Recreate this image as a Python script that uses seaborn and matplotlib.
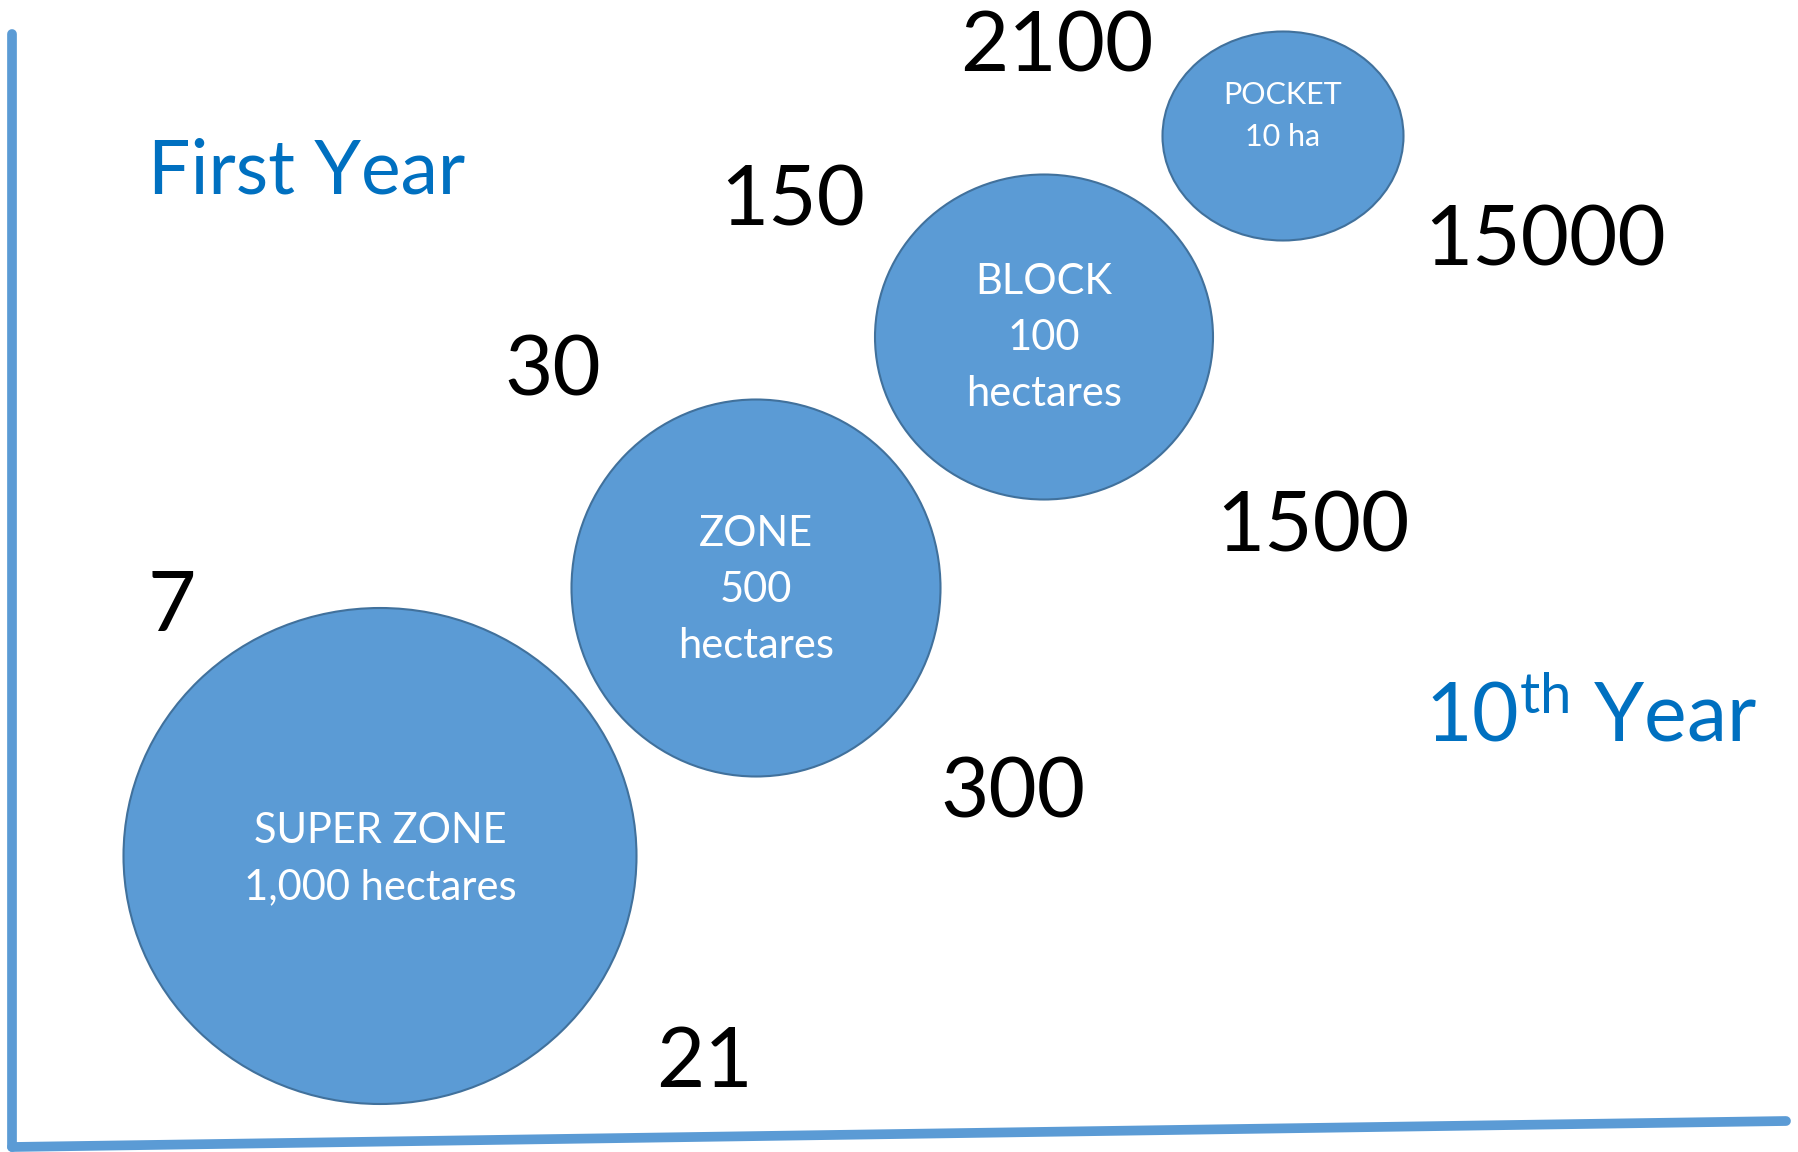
import matplotlib
matplotlib.use("Agg")
import matplotlib.pyplot as plt
from matplotlib.patches import Ellipse
import seaborn as sns
import pandas as pd

# ---- data ----
zone_names = ["SUPER ZONE", "ZONE", "BLOCK", "POCKET"]
zone_labels = ["SUPER ZONE\n1,000 hectares", "ZONE\n500\nhectares", "BLOCK\n100\nhectares", "POCKET\n10 ha"]
first_year_counts = ["7", "30", "150", "2100"]
tenth_year_counts = ["21", "300", "1500", "15000"]
axis_labels = ["First Year", "10th Year"]

# ---- layout (pixel coordinates, y down) ----
cx = [380, 756, 1044, 1283]
cy = [856, 588, 337, 136]
ew = [513, 369, 338, 241]
eh = [496, 377, 325, 209]
label_y = [859, 590, 338, 116]
label_size = [30, 30, 30, 22]
first_pos = [(172, 608), (553, 372), (793, 202), (1057, 49)]
tenth_pos = [(704, 1064), (1013, 794), (1313, 529), (1545, 242)]

sns.set_theme(style="white")
plt.rcParams["font.family"] = ["Lato", "DejaVu Sans"]
plt.rcParams["mathtext.fontset"] = "custom"
plt.rcParams["mathtext.rm"] = "Lato"
plt.rcParams["mathtext.it"] = "Lato"

fig = plt.figure(figsize=(17.98, 11.52), dpi=100)
ax = fig.add_axes([0, 0, 1, 1])
ax.set_xlim(0, 1798)
ax.set_ylim(1152, 0)
ax.axis("off")

fill = "#5B9BD5"
edge = "#41719C"
blue = "#0070C0"

# axis lines
axes_df = pd.DataFrame({"x": [12, 12, 12, 1786], "y": [34, 1147, 1147, 1121], "g": ["v", "v", "h", "h"]})
sns.lineplot(data=axes_df, x="x", y="y", units="g", estimator=None, sort=False,
             color=fill, linewidth=7, ax=ax, legend=False)

for i in range(len(zone_names)):
    ax.add_patch(Ellipse((cx[i], cy[i]), ew[i], eh[i], facecolor=fill,
                         edgecolor=edge, linewidth=1.5, zorder=3))
    ax.text(cx[i], label_y[i], zone_labels[i], color="white", fontsize=label_size[i],
            ha="center", va="center", linespacing=1.58, zorder=4)

for (x, y), t in zip(first_pos, first_year_counts):
    ax.text(x, y, t, fontsize=60, color="black", ha="center", va="center", zorder=5)
for (x, y), t in zip(tenth_pos, tenth_year_counts):
    ax.text(x, y, t, fontsize=60, color="black", ha="center", va="center", zorder=5)

ax.text(307, 172, axis_labels[0], fontsize=54, color=blue, ha="center", va="center")
ax.text(1425, 742, r"10$^{\mathrm{th}}$ Year", fontsize=58, color=blue, ha="left", va="baseline")

fig.savefig("out.png", dpi=100)
